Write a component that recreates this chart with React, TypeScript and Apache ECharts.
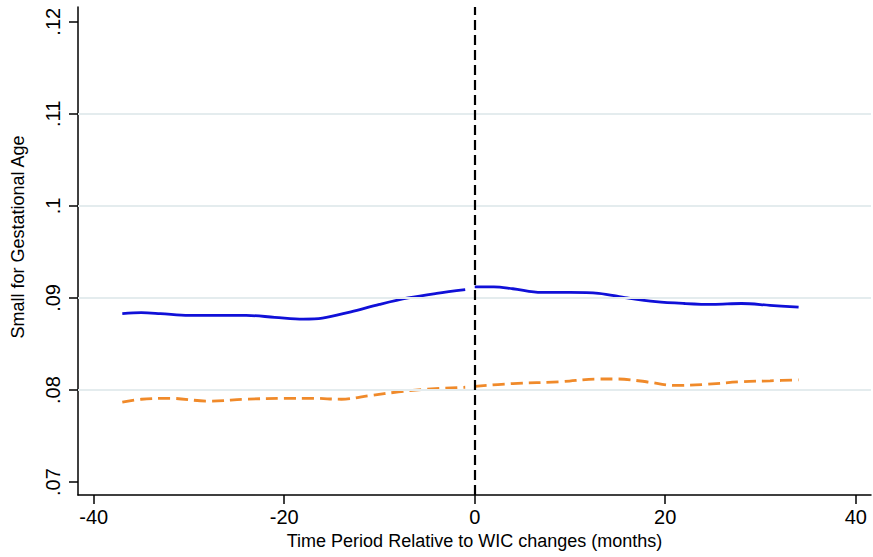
import React, { useEffect, useRef } from "react";
import * as echarts from "echarts";

// ---- data ----
const blueBeforeX = [-37, -35, -33, -30, -27, -24, -21, -18, -16, -13, -10, -7, -4, -1];
const blueBefore = [0.0883, 0.0884, 0.0883, 0.0881, 0.0881, 0.0881, 0.0879, 0.0877, 0.0878, 0.0885, 0.0893, 0.09, 0.0905, 0.0909];
const blueAfterX = [0, 2, 4, 7, 10, 13, 16, 19, 22, 25, 28, 31, 34];
const blueAfter = [0.0912, 0.0912, 0.091, 0.0906, 0.0906, 0.0905, 0.09, 0.0896, 0.0894, 0.0893, 0.0894, 0.0892, 0.089];
const orangeBeforeX = [-37, -35, -32, -28, -24, -20, -17, -14, -11, -8, -5, -1];
const orangeBefore = [0.0787, 0.079, 0.0791, 0.0788, 0.079, 0.0791, 0.0791, 0.079, 0.0794, 0.0798, 0.0801, 0.0803];
const orangeAfterX = [0, 4, 9, 13, 15, 18, 21, 24, 28, 31, 34];
const orangeAfter = [0.0804, 0.0807, 0.0809, 0.0812, 0.0812, 0.0809, 0.0805, 0.0806, 0.0809, 0.081, 0.0811];

const xTicks = [-40, -20, 0, 20, 40];
const yTicks = [0.07, 0.08, 0.09, 0.1, 0.11, 0.12];
const yTickLabels = [".07", ".08", ".09", ".1", ".11", ".12"];
const gridValues = [0.08, 0.09, 0.1, 0.11];
const eventX = 0;

const xTitle = "Time Period Relative to WIC changes (months)";
const yTitle = "Small for Gestational Age";

const FONT = "'Liberation Sans', Arial, sans-serif";
const BLUE = "#1010d8";
const ORANGE = "#f08a2a";

const pairs = (xs: number[], ys: number[]) => xs.map((x, i) => [x, ys[i]]);

export default function App() {
  const ref = useRef<HTMLDivElement>(null);
  useEffect(() => {
    if (!ref.current) return;
    const chart = echarts.init(ref.current, undefined, { renderer: "svg" });
    const lineBase = { type: "line", showSymbol: false, smooth: 0.35, silent: true };
    chart.setOption({
      animation: false,
      backgroundColor: "#ffffff",
      grid: { left: 78, right: 2, top: 7, bottom: 62, containLabel: false },
      xAxis: {
        type: "value",
        min: -41.65,
        max: 41.6,
        name: xTitle,
        nameLocation: "middle",
        nameGap: 37,
        nameTextStyle: { fontFamily: FONT, fontSize: 18, color: "#000" },
        axisLine: { show: true, onZero: false, lineStyle: { color: "#000", width: 1.5 } },
        axisTick: { show: true, length: 9, lineStyle: { color: "#000", width: 1.5 }, customValues: xTicks },
        axisLabel: { fontFamily: FONT, fontSize: 20, color: "#000", margin: 12, customValues: xTicks },
        splitLine: { show: false },
      },
      yAxis: {
        type: "value",
        min: 0.0686,
        max: 0.1216,
        axisLine: { show: true, onZero: false, lineStyle: { color: "#000", width: 1.5 } },
        axisTick: { show: true, length: 9, lineStyle: { color: "#000", width: 1.5 }, customValues: yTicks },
        axisLabel: {
          fontFamily: FONT,
          fontSize: 20,
          color: "#000",
          rotate: 90,
          align: "center",
          verticalAlign: "bottom",
          margin: 15,
          customValues: yTicks,
          formatter: (v: number) => {
            const i = yTicks.findIndex((t) => Math.abs(t - v) < 1e-6);
            return i >= 0 ? yTickLabels[i] : "";
          },
        },
        splitLine: { show: false },
      },
      graphic: [
        {
          type: "text",
          x: 18,
          y: 237,
          rotation: Math.PI / 2,
          style: {
            text: yTitle,
            fontFamily: FONT,
            fontSize: 18,
            fill: "#000",
            align: "center",
            verticalAlign: "middle",
          },
        },
      ],
      series: [
        {
          type: "line",
          data: [],
          silent: true,
          markLine: {
            silent: true,
            symbol: "none",
            label: { show: false },
            lineStyle: { color: "#e4ecee", width: 2, type: "solid" },
            data: gridValues.map((v) => ({ yAxis: v })),
          },
        },
        { ...lineBase, data: pairs(blueBeforeX, blueBefore), lineStyle: { color: BLUE, width: 2.8 } },
        { ...lineBase, data: pairs(blueAfterX, blueAfter), lineStyle: { color: BLUE, width: 2.8 } },
        { ...lineBase, data: pairs(orangeBeforeX, orangeBefore), lineStyle: { color: ORANGE, width: 2.8, type: [12, 6] } },
        { ...lineBase, data: pairs(orangeAfterX, orangeAfter), lineStyle: { color: ORANGE, width: 2.8, type: [12, 6] } },
        {
          type: "line",
          data: [],
          silent: true,
          z: 5,
          markLine: {
            silent: true,
            symbol: "none",
            label: { show: false },
            lineStyle: { color: "#000", width: 2.2, type: [10, 5] },
            data: [{ xAxis: eventX }],
          },
        },
      ],
    });
    return () => chart.dispose();
  }, []);
  return <div ref={ref} style={{ position: "absolute", left: 0, top: 0, width: 873, height: 557 }} />;
}
